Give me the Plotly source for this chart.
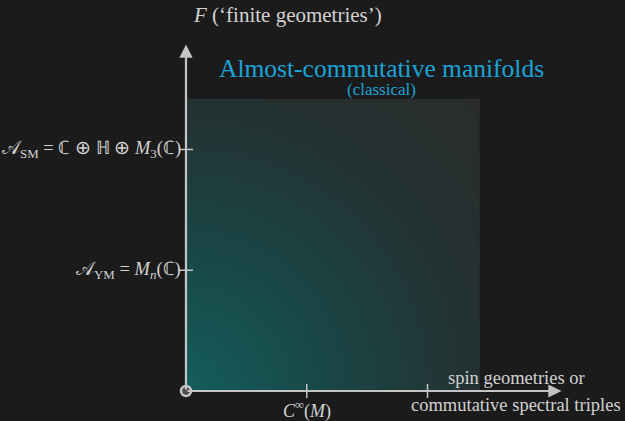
import numpy as np
import plotly.graph_objects as go

# ---- data (diagram units: origin at 0,0) ----
x_tick_vals = [1, 2]
x_tick_labels = ["<i>C</i><sup>∞</sup>(<i>M</i>)", ""]
y_tick_vals = [1, 2]
y_tick_labels = ["𝒜<sub>YM</sub> = <i>M</i><sub><i>n</i></sub>(ℂ)",
                 "𝒜<sub>SM</sub> = ℂ ⊕ ℍ ⊕ <i>M</i><sub>3</sub>(ℂ)"]
region_x = [0, 2.42]
region_y = [0, 2.41]
axis_end_x = 3.11
axis_end_y = 2.87
region_title = "Almost-commutative manifolds"
region_subtitle = "(classical)"
x_axis_title = ["spin geometries or", "commutative spectral triples"]
y_axis_title = "<i>F</i> (‘finite geometries’)"

BG = "#1b1b1b"
AXC = "#c4c4c4"
TXT = "#d2d2d2"
BLUE = "#1ba3d9"
FONT = "Liberation Serif"

scale = 120.75
W, H = 625, 421
ox, oy = 186, 391
xr = [-ox / scale, (W - ox) / scale]
yr = [-(H - oy) / scale, oy / scale]

fig = go.Figure()

# gradient fill of the region
n = 120
xs = np.linspace(region_x[0], region_x[1], n)
ys = np.linspace(region_y[0], region_y[1], n)
U, V = np.meshgrid((xs - region_x[0]) / (region_x[1] - region_x[0]),
                   (ys - region_y[0]) / (region_y[1] - region_y[0]))
Z = np.sqrt(U ** 2 + V ** 2) / np.sqrt(2)
fig.add_trace(go.Heatmap(
    x=xs, y=ys, z=Z, zsmooth="best", showscale=False, hoverinfo="skip",
    colorscale=[[0, "#135e5c"], [0.35, "#1a4646"], [0.7, "#243131"], [1, "#2a2c2c"]],
    zmin=0, zmax=1))

# axes arrows
fig.add_annotation(x=axis_end_x, y=0, ax=0, ay=0, xref="x", yref="y", axref="x", ayref="y",
                   showarrow=True, arrowhead=2, arrowsize=1.2, arrowwidth=2.2, arrowcolor=AXC, text="")
fig.add_annotation(x=0, y=axis_end_y, ax=0, ay=0, xref="x", yref="y", axref="x", ayref="y",
                   showarrow=True, arrowhead=2, arrowsize=1.2, arrowwidth=2.2, arrowcolor=AXC, text="")

# ticks
tl = 7 / scale
for xv, lab in zip(x_tick_vals, x_tick_labels):
    fig.add_shape(type="line", x0=xv, x1=xv, y0=-tl, y1=tl, line=dict(color=AXC, width=1.5))
    if lab:
        fig.add_annotation(x=xv, y=-0.157, text=lab, showarrow=False, yanchor="middle",
                           font=dict(family=FONT, size=18, color=TXT))
for yv, lab in zip(y_tick_vals, y_tick_labels):
    fig.add_shape(type="line", y0=yv, y1=yv, x0=-tl, x1=tl, line=dict(color=AXC, width=1.5))
    fig.add_annotation(x=-0.025, y=yv, xanchor="right", yanchor="middle", text=lab, showarrow=False,
                       font=dict(family=FONT, size=18.5, color=TXT))

# origin marker
fig.add_trace(go.Scatter(x=[0], y=[0], mode="markers", hoverinfo="skip", showlegend=False,
                         marker=dict(size=10, color="#4e4e4e", line=dict(color=AXC, width=2.5))))

# titles
fig.add_annotation(x=0.045, y=3.114, xanchor="left", yanchor="middle", text=y_axis_title,
                   showarrow=False, font=dict(family=FONT, size=21, color=TXT))
cx = 1.615
fig.add_annotation(x=cx, y=2.668, text=region_title, showarrow=False, yanchor="middle",
                   font=dict(family=FONT, size=25.5, color=BLUE))
fig.add_annotation(x=cx, y=2.50, text=region_subtitle, showarrow=False, yanchor="middle",
                   font=dict(family=FONT, size=17, color=BLUE))
fig.add_annotation(x=2.733, y=0.108, text=x_axis_title[0], showarrow=False, yanchor="middle",
                   font=dict(family=FONT, size=18.5, color=TXT))
fig.add_annotation(x=2.733, y=-0.116, text=x_axis_title[1], showarrow=False, yanchor="middle",
                   font=dict(family=FONT, size=18.5, color=TXT))

fig.update_xaxes(range=xr, visible=False, fixedrange=True)
fig.update_yaxes(range=yr, visible=False, fixedrange=True)
fig.update_layout(width=W, height=H, margin=dict(l=0, r=0, t=0, b=0),
                  paper_bgcolor=BG, plot_bgcolor=BG, showlegend=False)

fig.write_html("out.html", config={"displayModeBar": False},
               post_script="document.body.style.margin='0';document.body.style.background='#1b1b1b';")
